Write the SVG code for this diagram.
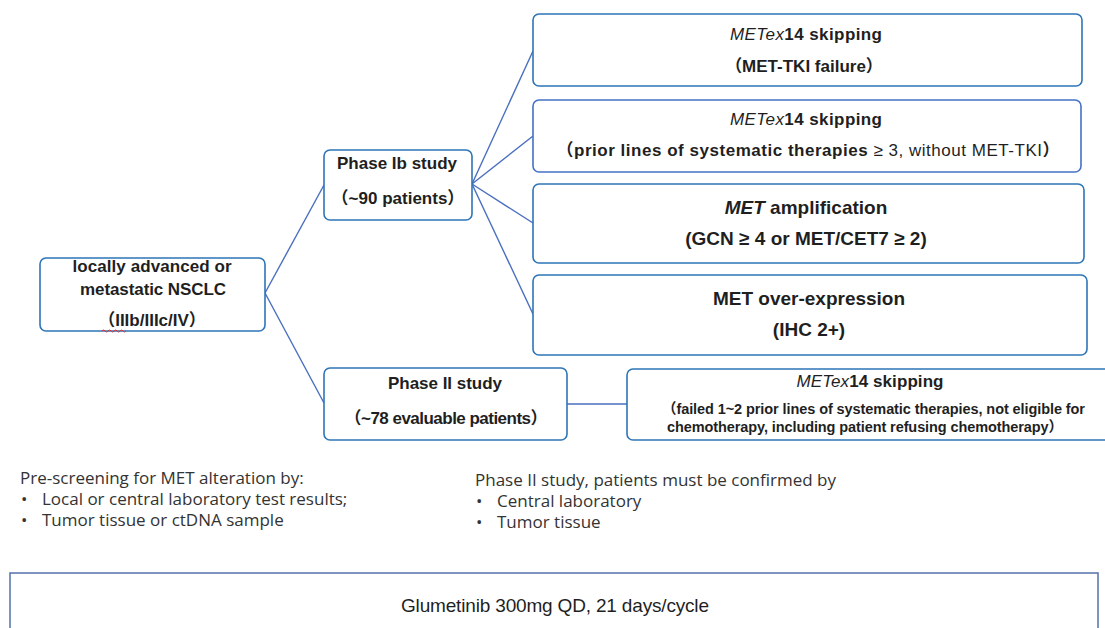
<svg xmlns="http://www.w3.org/2000/svg" width="1105" height="628" viewBox="0 0 1105 628">
<style>
  .box { fill: #ffffff; stroke: #2e75b6; stroke-width: 1.6; }
  .box2 { fill: #ffffff; stroke: #4472c4; stroke-width: 1.6; }
  .conn { stroke: #4a6fbf; stroke-width: 1.4; fill: none; }
  .t { font-family: "Liberation Sans", "Noto Sans CJK SC", sans-serif; fill: #1f1f1f; text-anchor: middle; font-weight: bold; font-size: 17px; }
  .a { font-size: 19px; }
  .ts { font-family: "Liberation Sans", "Noto Sans CJK SC", sans-serif; fill: #1f1f1f; font-weight: bold; font-size: 14.5px; }
  .n { font-family: "Open Sans", "Liberation Sans", sans-serif; fill: #333333; font-size: 17px; }
  .g { font-family: "Liberation Sans", sans-serif; fill: #1f1f1f; font-size: 19px; text-anchor: middle; }
  .lt { font-weight: normal; }
</style>
<rect width="1105" height="628" fill="#ffffff"/>
<g id="connectors">
  <line class="conn" x1="265" y1="293" x2="324" y2="185"/>
  <line class="conn" x1="265" y1="293" x2="324" y2="403"/>
  <line class="conn" x1="472" y1="184" x2="533" y2="51"/>
  <line class="conn" x1="472" y1="184" x2="533" y2="136"/>
  <line class="conn" x1="472" y1="184" x2="533" y2="223"/>
  <line class="conn" x1="472" y1="184" x2="533" y2="314"/>
  <line class="conn" x1="567" y1="404" x2="627" y2="404"/>
</g>
<g id="node-nsclc">
  <rect class="box" x="40" y="258" width="225" height="73" rx="6"/>
  <text class="t" x="152" y="272" textLength="159">locally advanced or</text>
  <text class="t" x="153" y="295" textLength="146">metastatic NSCLC</text>
  <text class="t" x="152" y="326">（IIIb/IIIc/IV）</text>
  <path d="M102 331 q1.5 -2 3 0 t3 0 t3 0 t3 0 t3 0 t3 0 t3 0 t3 0" fill="none" stroke="#e03030" stroke-width="1"/>
</g>
<g id="node-phase1b">
  <rect class="box" x="324" y="150" width="148" height="70" rx="6"/>
  <text class="t" x="397" y="169" textLength="120">Phase Ib study</text>
  <text class="t" x="398" y="204">（~<tspan font-weight="900">9</tspan>0 patients）</text>
</g>
<g id="node-phase2">
  <rect class="box" x="324" y="368" width="243" height="72" rx="6"/>
  <text class="t" x="445" y="389" textLength="114">Phase II study</text>
  <text class="t" x="446" y="424" textLength="203">（~<tspan font-weight="900">78</tspan> evaluable patients）</text>
</g>
<g id="node-metex14-tki">
  <rect class="box" x="533" y="14" width="549" height="72" rx="6"/>
  <text class="t" x="806" y="40" textLength="152"><tspan font-style="italic" class="lt">METex</tspan>14 skipping</text>
  <text class="t" x="804" y="72">（MET-TKI failure）</text>
</g>
<g id="node-metex14-prior">
  <rect class="box2" x="533" y="100" width="548" height="72" rx="6"/>
  <text class="t" x="806" y="125" textLength="152"><tspan font-style="italic" class="lt">METex</tspan>14 skipping</text>
  <text class="t" x="808" y="156" textLength="503">（prior lines of systematic therapies <tspan class="lt">≥ 3, without MET-TKI</tspan>）</text>
</g>
<g id="node-amplification">
  <rect class="box" x="533" y="184" width="551" height="79" rx="6"/>
  <text class="t a" x="806" y="214"><tspan font-style="italic">MET</tspan> amplification</text>
  <text class="t a" x="806" y="245">(GCN ≥ 4 or MET/CET7 ≥ 2)</text>
</g>
<g id="node-overexpression">
  <rect class="box" x="533" y="275" width="554" height="80" rx="6"/>
  <text class="t a" x="809" y="305">MET over-expression</text>
  <text class="t a" x="809" y="336">(IHC 2+)</text>
</g>
<g id="node-phase2-metex14">
  <rect class="box" x="627" y="369" width="490" height="71" rx="6"/>
  <text class="t" x="870" y="387" textLength="147"><tspan font-style="italic" class="lt">METex</tspan>14 skipping</text>
  <text class="ts" x="662" y="414" textLength="423">（failed 1~2 prior lines of systematic therapies, not eligible for</text>
  <text class="ts" x="667" y="432" textLength="396">chemotherapy, including patient refusing chemotherapy）</text>
</g>
<g id="note-prescreening">
  <text class="n" x="20" y="484">Pre-screening for MET alteration by:</text>
  <text class="n" x="21" y="505">•</text>
  <text class="n" x="42" y="505">Local or central laboratory test results;</text>
  <text class="n" x="21" y="526">•</text>
  <text class="n" x="42" y="526">Tumor tissue or ctDNA sample</text>
</g>
<g id="note-phase2">
  <text class="n" x="475" y="486">Phase II study, patients must be confirmed by</text>
  <text class="n" x="476" y="507">•</text>
  <text class="n" x="497" y="507">Central laboratory</text>
  <text class="n" x="476" y="528">•</text>
  <text class="n" x="497" y="528">Tumor tissue</text>
</g>
<g id="node-treatment">
  <rect x="10" y="573" width="1088" height="70" fill="#ffffff" stroke="#5470a8" stroke-width="1.5"/>
  <text class="g" x="555" y="612" textLength="308">Glumetinib 300mg QD, 21 days/cycle</text>
</g>
</svg>
